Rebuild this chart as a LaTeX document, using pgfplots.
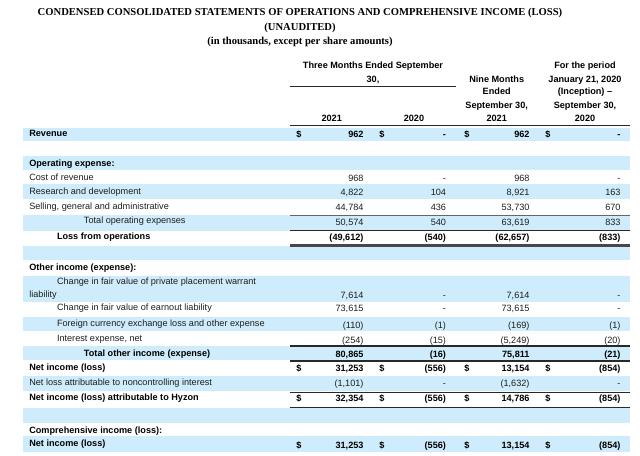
\documentclass[border=0pt]{standalone}
\usepackage{fontspec}
\setmainfont{Liberation Sans}
\newfontfamily\titlefont{Liberation Serif}
\usepackage{pgfplots}
\usepackage{pgfplotstable}
\pgfplotsset{compat=1.18}
\definecolor{band}{RGB}{206,236,251}
\definecolor{txt}{RGB}{30,30,30}
\definecolor{rulec}{RGB}{40,40,40}
\newcommand\bodyfont{\fontsize{6.85}{8}\selectfont}
\newcommand\ttlfont{\titlefont\bfseries\fontsize{7.95}{9}\selectfont}

% title lines
\pgfplotstableread[col sep=semicolon]{
x;y;label
300;15.5;CONDENSED CONSOLIDATED STATEMENTS OF OPERATIONS AND COMPREHENSIVE INCOME (LOSS)
300;30;(UNAUDITED)
300;44.5;(in thousands, except per share amounts)
}\titletab

% column headers
\pgfplotstableread[col sep=semicolon]{
x;y;label
373;68.2;Three Months Ended September
373;82.2;30,
331.7;121.5;2021
414;121.5;2020
496.7;82.2;Nine Months
496.7;94.9;Ended
496.7;108.2;September 30,
496.7;121.5;2021
585;68.2;For the period
585;82.2;January 21, 2020
585;94.9;(Inception) –
585;108.2;September 30,
585;121.5;2020
}\headtab

% row labels, regular
\pgfplotstableread[col sep=semicolon]{
x;y;label
29.3;180;Cost of revenue
29.3;194;Research and development
29.3;209;Selling, general and administrative
84;223.5;Total operating expenses
57;284;Change in fair value of private placement warrant
29.3;297;liability
57;310;Change in fair value of earnout liability
57;326.7;Foreign currency exchange loss and other expense
57;341.7;Interest expense, net
29.3;385;Net loss attributable to noncontrolling interest
}\labnorm

% row labels, bold
\pgfplotstableread[col sep=semicolon]{
x;y;label
29.3;136;Revenue
29.3;166;Operating expense:
57;239;Loss from operations
29.3;270.5;Other income (expense):
84;356;Total other income (expense)
29.3;370;Net income (loss)
29.3;400;Net income (loss) attributable to Hyzon
29.3;433;Comprehensive income (loss):
29.3;446.7;Net income (loss)
}\labbold

% values, regular rows
\pgfplotstableread[col sep=semicolon]{
y;c1;c2;c3;c4
181.5;968;-;968;-
195.5;4,822;104;8,921;163
210.5;44,784;436;53,730;670
225;50,574;540;63,619;833
298.2;7,614;-;7,614;-
311.5;73,615;-;73,615;-
328.2;(110);(1);(169);(1)
343.2;(254);(15);(5,249);(20)
386.5;(1,101);-;(1,632);-
}\valnorm

% values, bold rows
\pgfplotstableread[col sep=semicolon]{
y;c1;c2;c3;c4
137.2;962;-;962;-
240.5;(49,612);(540);(62,657);(833)
357.2;80,865;(16);75,811;(21)
371.5;31,253;(556);13,154;(854)
401.5;32,354;(556);14,786;(854)
448.2;31,253;(556);13,154;(854)
}\valbold

\pgfplotsset{
  txtnode/.style={draw=none, mark=none, forget plot, nodes near coords,
    point meta=explicit symbolic,
    every node near coord/.append style={inner sep=0pt, outer sep=0pt, #1}},
  band/.style={fill=band, draw=none, forget plot},
}

\begin{document}
\begin{tikzpicture}
\begin{axis}[
  scale only axis, width=480pt, height=341.25pt,
  xmin=0, xmax=640, ymin=0, ymax=455, y dir=reverse,
  hide axis, clip=false,
]
% frame for bounding box
\addplot[draw=none, forget plot] coordinates {(0,0) (640,0) (640,455) (0,455)};

% shaded row bands
\addplot[band] coordinates {(23,127.5) (630,127.5) (630,141) (23,141)};
\addplot[band] coordinates {(23,156) (630,156) (630,169.5) (23,169.5)};
\addplot[band] coordinates {(23,184) (630,184) (630,199) (23,199)};
\addplot[band] coordinates {(23,215) (630,215) (630,230.5) (23,230.5)};
\addplot[band] coordinates {(23,245.5) (630,245.5) (630,260) (23,260)};
\addplot[band] coordinates {(23,275.5) (630,275.5) (630,302) (23,302)};
\addplot[band] coordinates {(23,316.5) (630,316.5) (630,331) (23,331)};
\addplot[band] coordinates {(23,345.5) (630,345.5) (630,360) (23,360)};
\addplot[band] coordinates {(23,376) (630,376) (630,391) (23,391)};
\addplot[band] coordinates {(23,407.5) (630,407.5) (630,422.5) (23,422.5)};
\addplot[band] coordinates {(23,436) (630,436) (630,451.5) (23,451.5)};

% rules
\addplot[rulec, line width=0.8pt, forget plot] coordinates {(290,86.7) (456,86.7)};
\addplot[rulec, line width=1.4pt, forget plot] coordinates {(290,125.5) (630,125.5)};
\addplot[gray!80!black, line width=1.3pt, forget plot] coordinates {(290,215.5) (630,215.5)};
\addplot[rulec, line width=0.9pt, forget plot] coordinates {(290,230.8) (630,230.8)};
\addplot[rulec!85, line width=2.2pt, forget plot] coordinates {(290,245.8) (630,245.8)};
\addplot[rulec, line width=0.9pt, forget plot] coordinates {(290,346) (630,346)};
\addplot[rulec, line width=0.9pt, forget plot] coordinates {(290,361) (630,361)};
\addplot[rulec, line width=0.9pt, forget plot] coordinates {(290,392.5) (630,392.5)};
\addplot[rulec, line width=1.4pt, forget plot] coordinates {(290,407.5) (630,407.5)};

% title
\addplot[txtnode={anchor=base, font=\ttlfont, text=black}] table[x=x, y=y, meta=label] {\titletab};
% headers
\addplot[txtnode={anchor=base, font=\bodyfont\bfseries, text=black}] table[x=x, y=y, meta=label] {\headtab};
% labels
\addplot[txtnode={anchor=base west, font=\bodyfont, text=txt}] table[x=x, y=y, meta=label] {\labnorm};
\addplot[txtnode={anchor=base west, font=\bodyfont\bfseries, text=black}] table[x=x, y=y, meta=label] {\labbold};
% values regular
\addplot[txtnode={anchor=base east, font=\bodyfont, text=txt}] table[x expr=363.5, y=y, meta=c1] {\valnorm};
\addplot[txtnode={anchor=base east, font=\bodyfont, text=txt}] table[x expr=446, y=y, meta=c2] {\valnorm};
\addplot[txtnode={anchor=base east, font=\bodyfont, text=txt}] table[x expr=529.5, y=y, meta=c3] {\valnorm};
\addplot[txtnode={anchor=base east, font=\bodyfont, text=txt}] table[x expr=620.5, y=y, meta=c4] {\valnorm};
% values bold
\addplot[txtnode={anchor=base east, font=\bodyfont\bfseries, text=black}] table[x expr=363.5, y=y, meta=c1] {\valbold};
\addplot[txtnode={anchor=base east, font=\bodyfont\bfseries, text=black}] table[x expr=446, y=y, meta=c2] {\valbold};
\addplot[txtnode={anchor=base east, font=\bodyfont\bfseries, text=black}] table[x expr=529.5, y=y, meta=c3] {\valbold};
\addplot[txtnode={anchor=base east, font=\bodyfont\bfseries, text=black}] table[x expr=620.5, y=y, meta=c4] {\valbold};
% dollar signs
\addplot[draw=none, mark=none, forget plot, nodes near coords={\$},
  every node near coord/.append style={inner sep=0pt, anchor=base, font=\bodyfont\bfseries, text=black}]
  coordinates {(299,137.2) (382,137.2) (467,137.2) (548,137.2)
               (299,371.5) (382,371.5) (467,371.5) (548,371.5)
               (299,401.5) (382,401.5) (467,401.5) (548,401.5)
               (299,448.2) (382,448.2) (467,448.2) (548,448.2)};
\end{axis}
\end{tikzpicture}
\end{document}
